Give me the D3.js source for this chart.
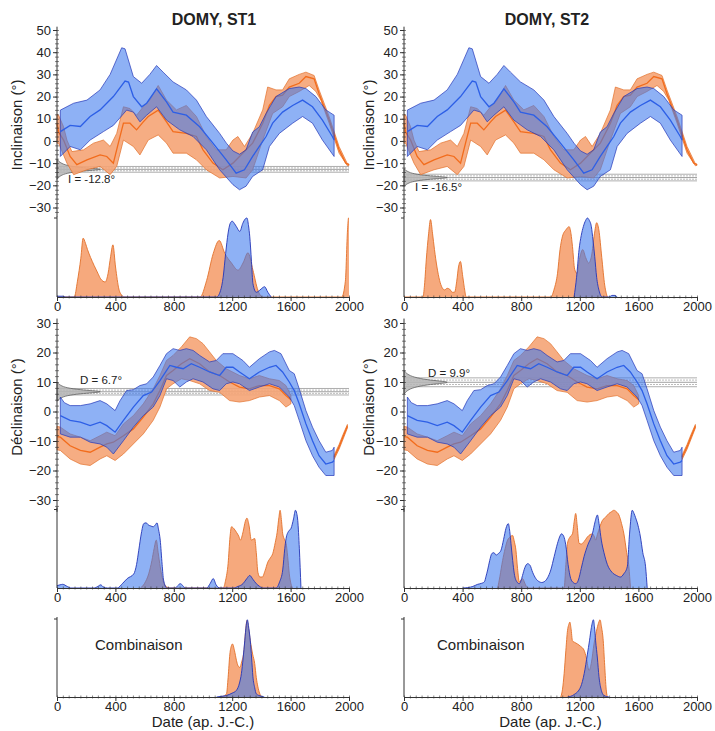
<!DOCTYPE html>
<html><head><meta charset="utf-8">
<script src="https://cdn.jsdelivr.net/npm/d3@7"></script>
<style>
body{margin:0;background:#fff}
text{font-family:"Liberation Sans",Arial,Helvetica,sans-serif;fill:#222}
</style>
</head><body>
<svg id="c" width="715" height="731"></svg>
<script>
// ---------- DATA ----------
const titles = ["DOMY, ST1", "DOMY, ST2"];
const xTicks = [0, 400, 800, 1200, 1600, 2000];
const incTicks = [-30, -20, -10, 0, 10, 20, 30, 40, 50];
const decTicks = [-30, -20, -10, 0, 10, 20, 30];

// Inclination reference curves [year, deg]
const incBlueMid = [[23,4.2],[90,7],[160,6.5],[227,11],[295,14],[386,20],[466,27],[490,26.5],[523,20],[580,15.4],[614,17],[682,23.5],[750,17.6],[795,13],[886,11.6],[977,6.4],[1068,-1],[1159,-8.5],[1227,-14.5],[1284,-13],[1340,-7],[1386,-2.5],[1432,2],[1477,8],[1545,13],[1614,16],[1682,18.4],[1750,15.4],[1818,9.4],[1886,2],[1898,0.5]];
const incBlueHi = [[23,13.9],[114,17],[205,18.4],[295,23],[364,30],[443,42],[466,41.5],[523,29],[580,26],[636,30],[682,34],[727,31],[795,26.6],[886,23],[955,18.4],[1023,11],[1114,3.4],[1160,-1],[1205,-4.5],[1250,-6],[1295,-4],[1340,4],[1386,6.4],[1432,12.4],[1500,20],[1591,23.6],[1659,24.3],[1705,23.6],[1773,20],[1841,14],[1898,11.6]];
const incBlueLo = [[23,-7],[90,-2.5],[160,-4],[227,0.4],[318,4.2],[386,7],[477,13.9],[523,13],[568,8.6],[614,11.6],[682,15.4],[750,9.4],[841,5],[932,2],[1023,-4],[1114,-13],[1205,-19.7],[1250,-22],[1295,-20.4],[1340,-16],[1409,-13],[1455,-2.5],[1523,3.4],[1614,8],[1682,11],[1750,8],[1818,0.4],[1898,-7]];
const incOrgMid = [[0,8],[11,4],[45,0.4],[90,-7],[136,-10.7],[205,-8.5],[295,-6.3],[341,-7],[386,-10],[420,-1],[455,8],[500,8],[545,5],[591,8.6],[625,11],[693,13.9],[750,8.6],[795,4.2],[886,3.4],[955,2],[1000,-4],[1068,-10],[1136,-13],[1205,-10],[1250,-7],[1295,-4],[1340,-1],[1409,8],[1455,16],[1500,20],[1545,20.6],[1591,24.3],[1659,26],[1705,29],[1761,28],[1795,21.3],[1864,9.4],[1932,-4],[1977,-10],[2000,-10.7]];
const incOrgHi = [[0,12],[11,11.6],[45,6.4],[68,0.4],[102,-4.8],[182,-4],[250,-1],[318,0.4],[364,-2.5],[409,3.4],[455,15.4],[500,14.6],[545,11.6],[591,15.4],[636,18.4],[693,25],[750,18.4],[818,14],[886,16],[955,11],[1023,2],[1091,-4],[1159,-4],[1205,0.4],[1239,2],[1284,-2.5],[1340,3.4],[1409,14],[1443,24.3],[1500,23],[1545,23],[1591,28],[1659,30],[1705,31],[1761,29.5],[1795,23],[1864,11],[1932,-2.5],[1989,-10.3],[2000,-10.5]];
const incOrgLo = [[0,-1],[11,-1],[68,-10],[114,-15.2],[205,-13],[295,-11.5],[364,-15.2],[409,-11.5],[455,0.4],[523,-2.5],[568,-6.3],[625,0.4],[693,2.7],[750,-1],[795,-5.5],[886,-5.5],[955,-8.5],[1023,-13],[1114,-16.7],[1205,-16],[1295,-16.7],[1340,-13],[1409,0.4],[1477,12.4],[1545,15.4],[1591,20],[1659,22.3],[1727,25],[1773,22.3],[1807,18.4],[1864,8],[1932,-5.5],[1989,-11.2],[2000,-11]];

// Declination reference curves [year, deg]
const decBlueMid = [[23,-1.4],[90,-3],[160,-3.6],[227,-4.8],[295,-3.6],[341,-4.8],[398,-7],[455,-3],[523,1.5],[591,5.4],[648,6.6],[705,10.5],[773,15.6],[818,15],[864,14.5],[920,16.2],[977,15],[1045,13.4],[1114,12.2],[1159,15],[1205,15],[1250,13.4],[1318,11.1],[1386,13.4],[1455,15],[1500,15.6],[1545,13.4],[1591,10],[1625,7.1],[1659,2.6],[1705,-4.2],[1750,-9.9],[1795,-15],[1841,-17.8],[1886,-17.2],[1898,-16.6]];
const decBlueHi = [[23,4.9],[50,3],[90,2],[160,2],[227,2.6],[295,3.7],[341,2.6],[398,0.3],[432,3.7],[477,7.1],[523,7.4],[568,8.8],[614,9.4],[659,11.7],[705,15.6],[750,19.6],[795,21.3],[841,20.7],[886,21.3],[932,20.7],[977,19],[1045,16.8],[1091,17.3],[1136,19.6],[1205,19.6],[1273,17.3],[1318,15],[1386,17.9],[1455,20.2],[1489,20.7],[1534,19.6],[1591,13.9],[1625,12.8],[1659,7.7],[1705,0.3],[1750,-5.3],[1795,-9.9],[1841,-13.8],[1886,-13.2],[1898,-12.1]];
const decBlueLo = [[23,-7.6],[90,-8.7],[160,-8.7],[227,-10.4],[295,-11],[341,-12.1],[386,-14.4],[455,-9.9],[523,-5.3],[591,-1.4],[659,1.5],[705,5.4],[750,11.1],[795,10.5],[841,8.3],[886,10],[932,11.1],[1000,10],[1068,7.7],[1114,7.1],[1159,9.4],[1205,10],[1250,9.4],[1318,7.1],[1386,8.3],[1455,9.4],[1523,8.3],[1591,4.9],[1625,2],[1659,-3],[1705,-9.9],[1750,-15],[1795,-18.9],[1841,-21.7],[1898,-21.7]];
const decOrgMid = [[0,-8.5],[23,-8.7],[90,-11.6],[160,-13.2],[227,-13.8],[295,-12.1],[341,-11],[386,-10.4],[455,-8.2],[523,-5.9],[591,-1.9],[659,2.6],[705,7.1],[750,12.2],[795,13.9],[852,16.2],[909,17.9],[977,16.2],[1045,13.4],[1114,12.2],[1182,10],[1250,8.3],[1318,7.7],[1386,8.8],[1455,8.8],[1523,7.7],[1568,5.4],[1602,4]];
const decOrgHi = [[0,-5],[23,-5.3],[90,-7.6],[160,-8.7],[227,-9.9],[295,-8.2],[341,-7],[398,-8.2],[455,-4.2],[523,-1.4],[591,2.6],[659,7.7],[705,12.2],[750,17.3],[795,19],[852,21.9],[909,25.3],[955,24.7],[1000,23],[1045,20.2],[1091,17.3],[1159,14.5],[1250,12.2],[1318,11.1],[1386,12.2],[1455,11.1],[1523,10.5],[1568,8.8],[1602,5.4]];
const decOrgLo = [[0,-13],[23,-13.2],[90,-16.1],[160,-17.8],[227,-18.3],[295,-16.1],[341,-15],[398,-16.6],[455,-14.4],[523,-11],[591,-7.6],[659,-3],[705,1.5],[750,7.7],[795,9.4],[852,11.1],[909,10.5],[977,9.4],[1045,7.1],[1114,6.5],[1182,3.7],[1250,3.2],[1318,3.7],[1386,4.9],[1455,5.4],[1523,3.7],[1568,1.5],[1602,2.6]];
const decOrg2Mid = [[1898,-15.5],[1932,-12],[1960,-8.5],[1989,-5]];
const decOrg2Hi = [[1898,-14.8],[1932,-11.2],[1960,-7.7],[1989,-4.4]];
const decOrg2Lo = [[1898,-16.3],[1932,-12.8],[1960,-9.3],[1989,-5.6]];

// Sample directions
const sampleInc = [-12.8, -16.5];
const sampleDec = [6.7, 9.9];
const incA95 = [1.3, 1.5];
const decA95 = [1.1, 1.5];
const grayInc = [
  [[-8.3,0],[-9.5,0.05],[-10.8,0.15],[-11.8,0.4],[-12.3,0.7],[-12.8,1],[-13.3,0.7],[-13.8,0.4],[-14.8,0.15],[-16,0.05],[-17.3,0]],
  [[-12.5,0],[-13.5,0.05],[-14.6,0.15],[-15.5,0.4],[-16,0.7],[-16.5,1],[-17,0.7],[-17.5,0.4],[-18.4,0.15],[-19.5,0.05],[-20.5,0]]
];
const grayDec = [
  [[3.5,0],[4.3,0.05],[5.2,0.15],[5.9,0.4],[6.3,0.7],[6.7,1],[7.1,0.7],[7.5,0.4],[8.2,0.15],[9.1,0.05],[9.9,0]],
  [[5.9,0],[6.9,0.05],[7.9,0.15],[8.9,0.4],[9.4,0.7],[9.9,1],[10.4,0.7],[10.9,0.4],[11.9,0.15],[12.9,0.05],[13.9,0]]
];

// Probability densities [year, relative]
const incDenOrg = [
  [[0,0],[118,0],[140,0.2],[163,0.49],[179,0.745],[195,0.68],[209,0.6],[230,0.5],[254,0.4],[280,0.3],[299,0.23],[330,0.19],[350,0.3],[367,0.51],[383,0.66],[401,0.38],[424,0.1],[445,0.02],[458,0],[980,0],[1025,0.21],[1070,0.55],[1111,0.715],[1150,0.55],[1195,0.43],[1240,0.34],[1274,0.43],[1308,0.56],[1342,0.34],[1376,0.085],[1410,0],[1950,0],[1975,0.2],[1990,0.85],[1997,1],[2000,1]],
  [[0,0],[129,0],[140,0.15],[152,0.47],[168,0.8],[181,0.98],[195,0.8],[208,0.6],[225,0.38],[243,0.21],[260,0.12],[277,0.09],[295,0.11],[311,0.1],[330,0.06],[345,0.06],[360,0.2],[372,0.38],[385,0.45],[401,0.26],[415,0.08],[424,0],[1002,0],[1025,0.1],[1048,0.3],[1065,0.6],[1082,0.77],[1105,0.85],[1127,0.89],[1140,0.8],[1150,0.64],[1165,0.35],[1180,0.3],[1200,0.5],[1220,0.6],[1240,0.5],[1260,0.43],[1280,0.52],[1300,0.8],[1315,0.94],[1330,0.85],[1350,0.5],[1370,0.15],[1388,0]]
];
const incDenBlue = [
  [[0,0.01],[40,0.01],[60,0],[1093,0],[1120,0.08],[1138,0.25],[1155,0.55],[1172,0.81],[1186,0.93],[1200,0.96],[1215,0.93],[1229,0.89],[1252,0.83],[1272,0.93],[1290,0.99],[1301,1],[1312,0.9],[1320,0.77],[1332,0.45],[1342,0.17],[1365,0.06],[1388,0.085],[1410,0.12],[1422,0.13],[1444,0.06],[1467,0]],
  [[1161,0],[1178,0.25],[1195,0.6],[1210,0.78],[1224,0.89],[1240,0.97],[1252,1],[1265,0.97],[1279,0.89],[1290,0.72],[1302,0.51],[1315,0.25],[1331,0.085],[1353,0],[1400,0],[1420,0.02],[1440,0.02],[1455,0]]
];
const decDenOrg = [
  [[572,0],[600,0.06],[628,0.18],[650,0.35],[665,0.5],[680,0.61],[693,0.45],[707,0.27],[725,0.1],[741,0.03],[776,0],[1138,0],[1155,0.1],[1172,0.31],[1185,0.65],[1195,0.78],[1210,0.76],[1229,0.71],[1245,0.66],[1256,0.61],[1275,0.72],[1290,0.85],[1301,0.89],[1315,0.8],[1331,0.61],[1342,0.62],[1354,0.63],[1365,0.45],[1376,0.2],[1390,0.14],[1406,0.14],[1425,0.22],[1444,0.33],[1460,0.38],[1478,0.44],[1495,0.58],[1508,0.71],[1520,0.9],[1528,0.99],[1538,0.85],[1546,0.69],[1558,0.62],[1569,0.57],[1580,0.4],[1591,0.18],[1603,0.05],[1614,0]],
  [[640,0],[655,0.15],[673,0.35],[690,0.5],[707,0.61],[724,0.65],[741,0.67],[752,0.6],[764,0.48],[775,0.25],[787,0.08],[798,0.1],[809,0.12],[825,0.06],[844,0],[1093,0],[1105,0.3],[1116,0.57],[1133,0.65],[1150,0.69],[1162,0.85],[1172,0.95],[1182,0.8],[1195,0.57],[1210,0.56],[1229,0.59],[1252,0.65],[1270,0.68],[1286,0.69],[1300,0.65],[1308,0.61],[1320,0.68],[1337,0.78],[1354,0.86],[1375,0.9],[1399,0.95],[1415,0.97],[1433,0.99],[1450,0.97],[1467,0.93],[1485,0.82],[1501,0.69],[1520,0.45],[1535,0.27],[1546,0]]
];
const decDenBlue = [
  [[0,0.03],[20,0.04],[39,0.047],[70,0.02],[95,0],[254,0],[280,0.02],[299,0.04],[320,0.01],[345,0],[413,0],[450,0.06],[481,0.12],[526,0.18],[545,0.3],[560,0.48],[578,0.7],[594,0.82],[610,0.83],[628,0.8],[643,0.79],[658,0.78],[672,0.8],[685,0.83],[695,0.75],[707,0.61],[720,0.3],[730,0.1],[753,0],[810,0],[827,0.03],[844,0.055],[862,0.03],[878,0],[1025,0],[1050,0.06],[1070,0.12],[1090,0.04],[1116,0],[1206,0],[1240,0.02],[1274,0.055],[1300,0.12],[1320,0.16],[1342,0.11],[1365,0.055],[1388,0.02],[1410,0],[1501,0],[1525,0.08],[1546,0.23],[1560,0.5],[1569,0.63],[1585,0.72],[1603,0.76],[1620,0.88],[1633,0.99],[1642,0.95],[1649,0.86],[1660,0.5],[1671,0]],
  [[400,0],[435,0.005],[470,0.02],[503,0.047],[530,0.06],[549,0.08],[560,0.15],[571,0.23],[585,0.35],[600,0.44],[614,0.45],[628,0.42],[645,0.44],[662,0.48],[680,0.62],[696,0.76],[712,0.82],[722,0.72],[730,0.57],[742,0.35],[753,0.18],[770,0.08],[787,0.055],[798,0.09],[809,0.16],[825,0.26],[844,0.31],[860,0.29],[878,0.2],[900,0.12],[923,0.08],[940,0.07],[957,0.08],[980,0.13],[1002,0.23],[1025,0.4],[1048,0.57],[1062,0.65],[1075,0.69],[1090,0.66],[1104,0.55],[1120,0.3],[1138,0.12],[1155,0.07],[1172,0.055],[1190,0.1],[1210,0.25],[1229,0.4],[1255,0.55],[1286,0.69],[1305,0.85],[1320,0.93],[1333,0.8],[1347,0.61],[1365,0.45],[1388,0.3],[1420,0.2],[1450,0.16],[1478,0.14],[1500,0.18],[1524,0.27],[1540,0.7],[1558,0.99],[1570,0.95],[1580,0.9],[1597,0.8],[1614,0.65],[1630,0.45],[1649,0.27],[1660,0]]
];
const combOrg = [
  [[1116,0],[1140,0.01],[1161,0.04],[1172,0.25],[1184,0.55],[1195,0.66],[1202,0.68],[1215,0.6],[1229,0.47],[1240,0.4],[1252,0.38],[1265,0.45],[1281,0.6],[1292,0.85],[1301,0.98],[1312,0.88],[1324,0.72],[1340,0.55],[1354,0.43],[1365,0.25],[1376,0.13],[1399,0]],
  [[1070,0],[1082,0.1],[1093,0.3],[1105,0.6],[1116,0.85],[1125,0.93],[1132,0.96],[1140,0.88],[1150,0.72],[1165,0.7],[1184,0.68],[1205,0.65],[1229,0.6],[1245,0.5],[1263,0.34],[1280,0.45],[1297,0.68],[1318,0.88],[1330,0.96],[1338,0.99],[1348,0.9],[1360,0.72],[1370,0.4],[1380,0.1],[1388,0]]
];
const combBlue = [
  [[1093,0],[1130,0.01],[1161,0.02],[1200,0.05],[1229,0.085],[1250,0.18],[1263,0.3],[1275,0.5],[1286,0.72],[1296,0.92],[1304,0.99],[1314,0.88],[1324,0.72],[1333,0.5],[1342,0.26],[1354,0.12],[1365,0.04],[1399,0.01],[1420,0]],
  [[1116,0],[1160,0.03],[1206,0.13],[1230,0.3],[1252,0.55],[1266,0.72],[1279,0.89],[1293,0.99],[1300,0.9],[1308,0.72],[1320,0.5],[1331,0.26],[1345,0.1],[1365,0.02],[1399,0]]
];

// ---------- STYLE ----------
const C = {
  orgFill: "#f5a476", orgStroke: "#e2702a", orgLine: "#f26c1c",
  blueFill: "rgb(60,120,238)", blueOp: 0.58, blueStroke: "#2436b8", blueLine: "#2d5fe6",
  axis: "#333"
};
const cols = [{x0:57, x1:349, titleX:214, yLabX:22}, {x0:404, x1:697, titleX:547, yLabX:374}];
const incRange = [207.5, 30];
const decRange = [500, 323];
const denPanels = [{base:297, top:218}, {base:588, top:509.5}, {base:697, top:619}];
const fmt = d3.format("d");

const svg = d3.select("#c");
svg.append("rect").attr("width",715).attr("height",731).attr("fill","#fff");

function bandPath(x, y, hi, lo) {
  const pts = hi.concat(lo.slice().reverse());
  return d3.line().x(d=>x(d[0])).y(d=>y(d[1]))(pts) + "Z";
}

function drawCurves(g, x, y, mid, hi, lo, fill, op, stroke, line) {
  g.append("path").attr("d", bandPath(x,y,hi,lo)).attr("fill",fill).attr("fill-opacity",op)
    .attr("stroke",stroke).attr("stroke-width",0.7);
  g.append("path").attr("d", d3.line().x(d=>x(d[0])).y(d=>y(d[1]))(mid)).attr("fill","none")
    .attr("stroke",line).attr("stroke-width",1.3);
}

function drawSample(g, x, y, mean, a95, shape, col) {
  const xEnd = x(2000);
  [[mean+a95,"#999",null],[mean-a95,"#999",null],[mean+a95/2,"#aaa","2,1"],[mean-a95/2,"#aaa","2,1"],[mean,"#888",null]].forEach(l=>{
    g.append("line").attr("x1",col.x0).attr("x2",xEnd).attr("y1",y(l[0])).attr("y2",y(l[0]))
      .attr("stroke",l[1]).attr("stroke-width",0.8).attr("stroke-dasharray",l[2]);
  });
  const w = d3.scaleLinear().domain([0,1]).range([col.x0, col.x0+48]);
  g.append("path").attr("d", d3.area().y(d=>y(d[0])).x0(col.x0).x1(d=>w(d[1])).curve(d3.curveBasis)(shape))
    .attr("fill","#b5b5b5").attr("fill-opacity",0.85).attr("stroke","#555").attr("stroke-width",0.7);
}

function drawYAxis(g, col, y, ticks, from, to) {
  const ax = g.append("g").attr("transform",`translate(${col.x0},0)`);
  ax.call(d3.axisLeft(y).tickValues(d3.range(from, to+0.1, 2)).tickSize(2).tickFormat(""))
    .call(a=>a.select(".domain").remove());
  ax.selectAll(".tick line").attr("x2",2).attr("x1",-2).attr("stroke",C.axis).attr("stroke-width",0.6);
  const ax2 = g.append("g").attr("transform",`translate(${col.x0},0)`);
  ax2.call(d3.axisLeft(y).tickValues(ticks).tickSize(4).tickPadding(2).tickFormat(fmt))
    .call(a=>a.select(".domain").remove());
  ax2.selectAll(".tick line").attr("stroke",C.axis);
  ax2.selectAll("text").attr("font-size",13).attr("fill","#222").style("font-family",'"Liberation Sans",Arial,sans-serif');
  g.append("line").attr("x1",col.x0).attr("x2",col.x0).attr("y1",y(to+1.5)).attr("y2",y(from-2))
    .attr("stroke",C.axis).attr("stroke-width",1);
}

function drawXAxis(g, x, yb) {
  const a1 = g.append("g").attr("transform",`translate(0,${yb})`);
  a1.call(d3.axisBottom(x).tickValues(d3.range(0,2001,40)).tickSize(3).tickFormat(""))
    .call(a=>a.select(".domain").remove());
  a1.selectAll(".tick line").attr("y1",-1.5).attr("y2",1.5).attr("stroke",C.axis).attr("stroke-width",0.6);
  const a2 = g.append("g").attr("transform",`translate(0,${yb})`);
  a2.call(d3.axisBottom(x).tickValues(xTicks).tickSize(4).tickPadding(1).tickFormat(fmt))
    .call(a=>a.select(".domain").attr("stroke",C.axis));
  a2.selectAll(".tick line").attr("stroke",C.axis);
  a2.selectAll("text").attr("font-size",13).attr("fill","#222").style("font-family",'"Liberation Sans",Arial,sans-serif');
}

function drawDensity(g, x, yd, base, data, fill, op, stroke) {
  g.append("path").attr("d", d3.area().x(d=>x(d[0])).y0(base).y1(d=>yd(d[1])).curve(d3.curveMonotoneX)(data))
    .attr("fill",fill).attr("fill-opacity",op);
  g.append("path").attr("d", d3.line().x(d=>x(d[0])).y(d=>yd(d[1])).curve(d3.curveMonotoneX)(data))
    .attr("fill","none").attr("stroke",stroke).attr("stroke-width",0.9);
}

cols.forEach((col, i) => {
  const g = svg.append("g");
  const x = d3.scaleLinear().domain([0,2000]).range([col.x0, col.x1]);
  const yI = d3.scaleLinear().domain([-30,50]).range(incRange);
  const yD = d3.scaleLinear().domain([-30,30]).range(decRange);

  g.append("text").attr("x",col.titleX).attr("y",25).attr("text-anchor","middle")
    .attr("font-size",16).attr("font-weight","bold").text(titles[i]);

  // ---- Inclination panel ----
  drawSample(g, x, yI, sampleInc[i], incA95[i], grayInc[i], col);
  drawCurves(g, x, yI, incOrgMid, incOrgHi, incOrgLo, C.orgFill, 0.9, C.orgStroke, C.orgLine);
  drawCurves(g, x, yI, incBlueMid, incBlueHi, incBlueLo, C.blueFill, C.blueOp, C.blueStroke, C.blueLine);
  drawYAxis(g, col, yI, incTicks, -32, 50);
  g.append("text").attr("x", col.x0+11).attr("y", i===0?183:191).attr("font-size",11.5)
    .text("I = " + sampleInc[i].toFixed(1) + "°");
  g.append("text").attr("transform",`translate(${col.yLabX},125) rotate(-90)`).attr("text-anchor","middle")
    .attr("font-size",15).text("Inclinaison (°)");

  // ---- Declination panel ----
  drawSample(g, x, yD, sampleDec[i], decA95[i], grayDec[i], col);
  drawCurves(g, x, yD, decOrgMid, decOrgHi, decOrgLo, C.orgFill, 0.9, C.orgStroke, C.orgLine);
  drawCurves(g, x, yD, decOrg2Mid, decOrg2Hi, decOrg2Lo, C.orgFill, 0.9, C.orgStroke, C.orgLine);
  drawCurves(g, x, yD, decBlueMid, decBlueHi, decBlueLo, C.blueFill, C.blueOp, C.blueStroke, C.blueLine);
  drawYAxis(g, col, yD, decTicks, -32, 30);
  g.append("text").attr("x", col.x0+(i===0?23:24)).attr("y", i===0?384:377).attr("font-size",11.5)
    .text("D = " + sampleDec[i].toFixed(1) + "°");
  g.append("text").attr("transform",`translate(${col.yLabX},407) rotate(-90)`).attr("text-anchor","middle")
    .attr("font-size",15).text("Déclinaison (°)");

  // ---- Density panels ----
  const dens = [[incDenOrg[i], incDenBlue[i]], [decDenOrg[i], decDenBlue[i]], [combOrg[i], combBlue[i]]];
  denPanels.forEach((p, k) => {
    const yd = d3.scaleLinear().domain([0,1]).range([p.base, p.top]);
    drawDensity(g, x, yd, p.base, dens[k][0], C.orgFill, 0.95, C.orgStroke);
    drawDensity(g, x, yd, p.base, dens[k][1], C.blueFill, C.blueOp, C.blueStroke);
    g.append("line").attr("x1",col.x0).attr("x2",col.x0).attr("y1",p.base).attr("y2",p.top-2)
      .attr("stroke",C.axis);
    g.append("line").attr("x1",col.x0-3).attr("x2",col.x0).attr("y1",p.top).attr("y2",p.top)
      .attr("stroke",C.axis);
    drawXAxis(g, x, p.base);
  });

  g.append("text").attr("x", col.x0+(i===0?38:33)).attr("y",650).attr("font-size",15).text("Combinaison");
  g.append("text").attr("x",(col.x0+col.x1)/2).attr("y",727).attr("text-anchor","middle")
    .attr("font-size",15).text("Date (ap. J.-C.)");
});
</script>
</body></html>
